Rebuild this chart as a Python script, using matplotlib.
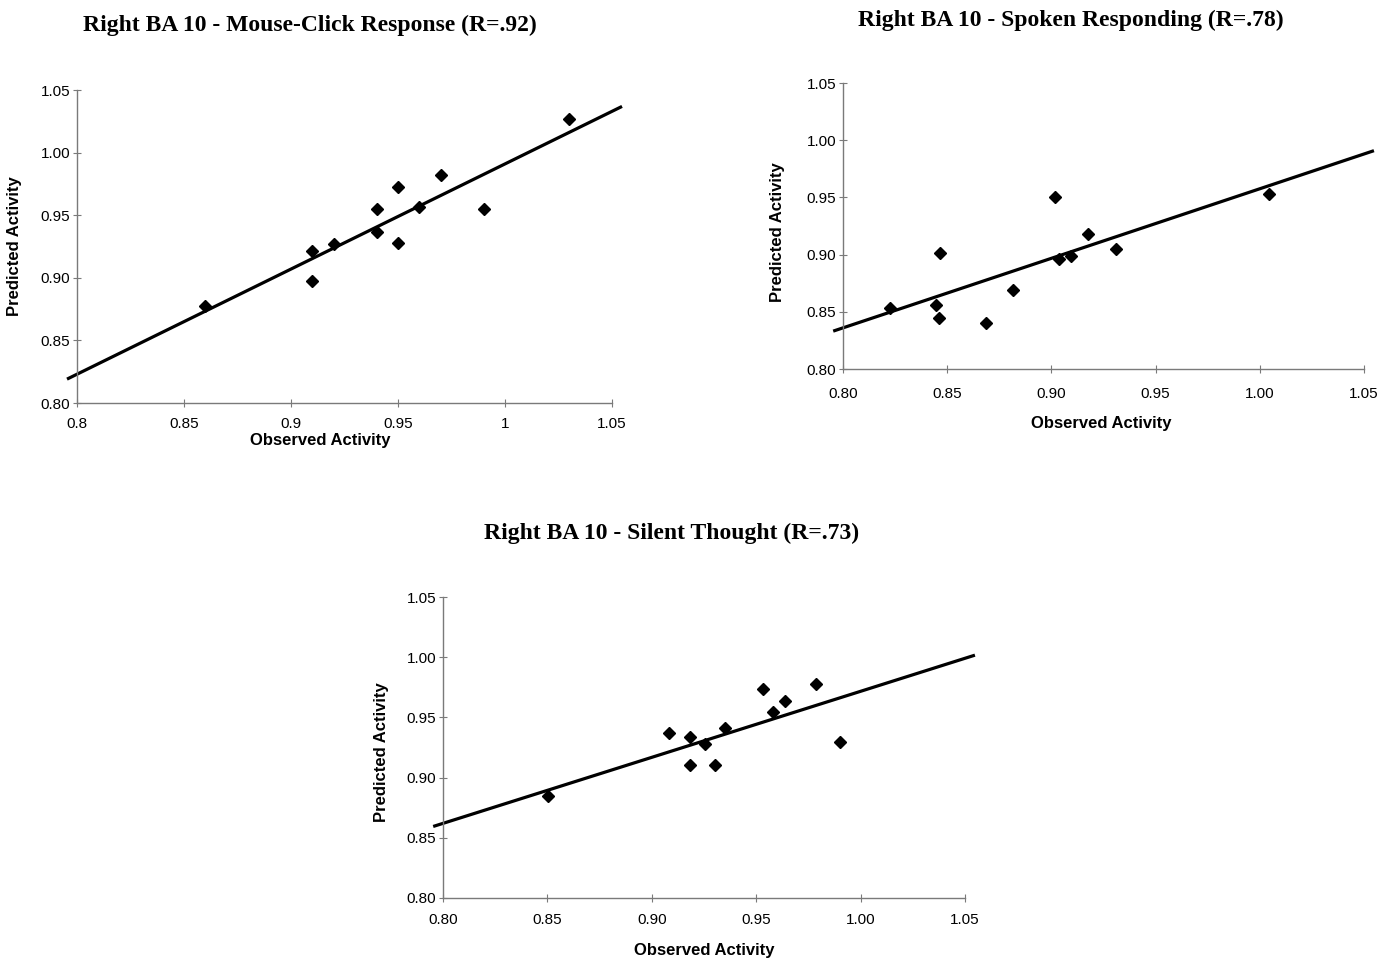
#!/usr/bin/env python3
"""
Predicted vs observed activity in right BA 10 for three response modes,
each panel with its linear trend line.
"""
import numpy as np
import matplotlib
matplotlib.use("Agg")
import matplotlib.pyplot as plt

# --- data ---
mouse_obs = [0.86, 0.91, 0.91, 0.92, 0.94, 0.94, 0.95, 0.95, 0.96, 0.97, 0.99, 1.03]
mouse_pred = [0.8775, 0.9214, 0.8974, 0.927, 0.955, 0.937, 0.9725, 0.928, 0.9565, 0.982, 0.955, 1.027]
mouse_fit = (0.840, 0.823)  # slope, value at x=0.8

spoken_obs = [0.8225, 0.8444, 0.8461, 0.8467, 0.8688, 0.8814, 0.9019, 0.9035, 0.9092, 0.9176, 0.9311, 1.0043]
spoken_pred = [0.8535, 0.8556, 0.845, 0.9015, 0.840, 0.8687, 0.950, 0.8965, 0.8991, 0.9178, 0.905, 0.9529]
spoken_fit = (0.608, 0.836)

silent_obs = [0.8503, 0.908, 0.9183, 0.9183, 0.9254, 0.9303, 0.9352, 0.9532, 0.9581, 0.9637, 0.9786, 0.9903]
silent_pred = [0.8844, 0.9372, 0.9337, 0.9106, 0.9276, 0.9106, 0.9414, 0.9735, 0.9546, 0.9636, 0.9774, 0.9293]
silent_fit = (0.5485, 0.862)

trend_range = [0.796, 1.054]

ticks = [0.80, 0.85, 0.90, 0.95, 1.00, 1.05]
xlabels_short = ["0.8", "0.85", "0.9", "0.95", "1", "1.05"]
labels_2dp = ["0.80", "0.85", "0.90", "0.95", "1.00", "1.05"]

titles = ["Right BA 10 - Mouse-Click Response (R=.92)",
          "Right BA 10 - Spoken Responding (R=.78)",
          "Right BA 10 - Silent Thought (R=.73)"]

SANS = ["Liberation Sans", "DejaVu Sans"]
SERIF = ["Liberation Serif", "DejaVu Serif"]
GREY = "#7a7a7a"


def draw_panel(ax, obs, pred, fit, xticklabels, xpad, xlab_pos, ylab_pos):
    ax.set_xlim(0.80, 1.05)
    ax.set_ylim(0.80, 1.05)
    for side in ("top", "right"):
        ax.spines[side].set_visible(False)
    for side in ("left", "bottom"):
        ax.spines[side].set_color(GREY)
        ax.spines[side].set_linewidth(1.0)
    ax.set_xticks(ticks)
    ax.set_xticklabels(xticklabels, family=SANS, fontsize=11)
    ax.set_yticks(ticks)
    ax.set_yticklabels(labels_2dp, family=SANS, fontsize=11)
    ax.tick_params(direction="inout", length=6, width=0.8, color=GREY)
    ax.tick_params(axis="x", pad=xpad)
    ax.tick_params(axis="y", pad=2)

    slope, y0 = fit
    tx = np.array(trend_range)
    ax.plot(tx, y0 + slope * (tx - 0.80), color="black", lw=2.3,
            clip_on=False, zorder=2)
    ax.plot(obs, pred, "D", color="black", ms=6.5, clip_on=False, zorder=3)

    ax.set_xlabel("Observed Activity", family=SANS, fontsize=12, fontweight="bold")
    ax.set_ylabel("Predicted Activity", family=SANS, fontsize=12, fontweight="bold")
    ax.xaxis.set_label_coords(*xlab_pos)
    ax.yaxis.set_label_coords(*ylab_pos)


def main():
    fig = plt.figure(figsize=(13.85, 9.6), dpi=100)

    ax1 = fig.add_axes([0.0556, 0.5802, 0.3863, 0.326])
    ax2 = fig.add_axes([0.6087, 0.6156, 0.3762, 0.2979])
    ax3 = fig.add_axes([0.3199, 0.0646, 0.3769, 0.3135])

    draw_panel(ax1, mouse_obs, mouse_pred, mouse_fit, xlabels_short, 7,
               (0.454, -0.096), (-0.103, 0.50))
    draw_panel(ax2, spoken_obs, spoken_pred, spoken_fit, labels_2dp, 10,
               (0.495, -0.164), (-0.111, 0.479))
    draw_panel(ax3, silent_obs, silent_pred, silent_fit, labels_2dp, 8,
               (0.50, -0.150), (-0.103, 0.485))

    title_pos = [(310 / 1385, 1 - 25 / 960),
                 (1071 / 1385, 1 - 20 / 960),
                 (672 / 1385, 1 - 533 / 960)]
    for (tx, ty), t in zip(title_pos, titles):
        fig.text(tx, ty, t, ha="center", va="center", family=SERIF,
                 fontsize=17, fontweight="bold")

    fig.savefig("out.png", dpi=100)
# end def: main


if __name__ == "__main__":
    main()
# end if
